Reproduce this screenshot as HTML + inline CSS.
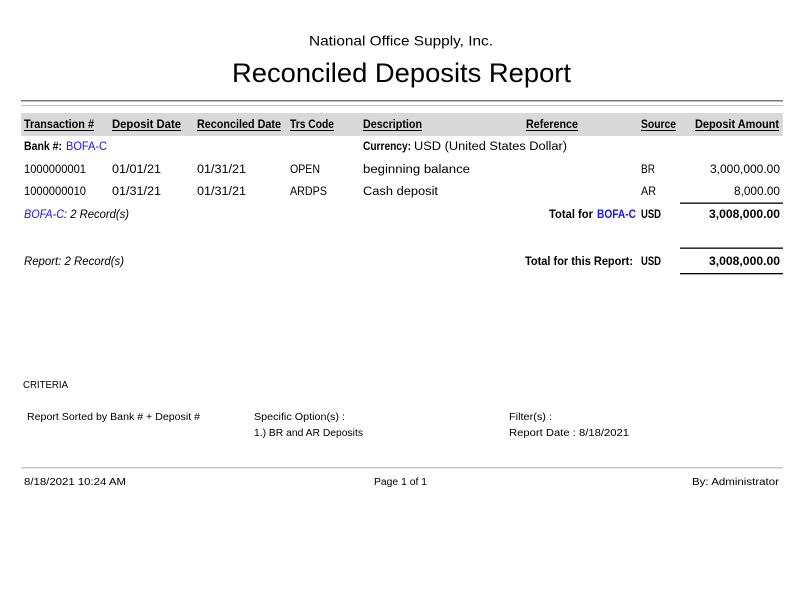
<!DOCTYPE html>
<html>
<head>
<meta charset="utf-8">
<style>
  html, body { margin:0; padding:0; background:#fff; }
  svg { display:block; }
  text { font-family: "Liberation Sans", sans-serif; fill:#000; }
  .h { font-size:12px; font-weight:bold; }
  .r { font-size:11.5px; }
  .b { font-weight:bold; }
  .i { font-style:italic; }
  .blue { fill:#1414ff; }
  .s { font-size:10px; }
</style>
</head>
<body>
<svg width="808" height="612" viewBox="0 0 808 612" xmlns="http://www.w3.org/2000/svg">
  <rect x="0" y="0" width="808" height="612" fill="#fff"/>

  <!-- titles -->
  <text x="309" y="45.5" font-size="14" textLength="184" lengthAdjust="spacingAndGlyphs">National Office Supply, Inc.</text>
  <text x="232" y="82" font-size="26.5" textLength="339" lengthAdjust="spacingAndGlyphs">Reconciled Deposits Report</text>

  <!-- top rules -->
  <rect x="21" y="100" width="762" height="1.5" fill="#7a7a7a"/>
  <rect x="21" y="105" width="762" height="1" fill="#c4c4c4"/>

  <!-- header band -->
  <rect x="21" y="113" width="762" height="23" fill="#d9d9d9"/>
  <g class="h">
    <text x="24" y="128" textLength="70" lengthAdjust="spacingAndGlyphs">Transaction #</text>
    <text x="112" y="128" textLength="69" lengthAdjust="spacingAndGlyphs">Deposit Date</text>
    <text x="197" y="128" textLength="84" lengthAdjust="spacingAndGlyphs">Reconciled Date</text>
    <text x="290" y="128" textLength="44" lengthAdjust="spacingAndGlyphs">Trs Code</text>
    <text x="363" y="128" textLength="59" lengthAdjust="spacingAndGlyphs">Description</text>
    <text x="526" y="128" textLength="52" lengthAdjust="spacingAndGlyphs">Reference</text>
    <text x="641" y="128" textLength="35" lengthAdjust="spacingAndGlyphs">Source</text>
    <text x="695" y="128" textLength="84" lengthAdjust="spacingAndGlyphs">Deposit Amount</text>
  </g>
  <g fill="#000">
    <rect x="24" y="130" width="70" height="1"/>
    <rect x="112" y="130" width="69" height="1"/>
    <rect x="197" y="130" width="84" height="1"/>
    <rect x="290" y="130" width="44" height="1"/>
    <rect x="363" y="130" width="59" height="1"/>
    <rect x="526" y="130" width="52" height="1"/>
    <rect x="641" y="130" width="35" height="1"/>
    <rect x="695" y="130" width="84" height="1"/>
  </g>

  <!-- bank row -->
  <g class="r">
    <text x="24" y="150" class="b" textLength="38" lengthAdjust="spacingAndGlyphs">Bank #:</text>
    <text x="66" y="150" class="blue" textLength="41" lengthAdjust="spacingAndGlyphs">BOFA-C</text>
    <text x="363" y="150" class="b" textLength="48" lengthAdjust="spacingAndGlyphs">Currency:</text>
    <text x="414" y="150" textLength="153" lengthAdjust="spacingAndGlyphs">USD (United States Dollar)</text>

    <!-- row 1 -->
    <text x="24" y="173" textLength="62" lengthAdjust="spacingAndGlyphs">1000000001</text>
    <text x="112" y="173" textLength="49" lengthAdjust="spacingAndGlyphs">01/01/21</text>
    <text x="197" y="173" textLength="49" lengthAdjust="spacingAndGlyphs">01/31/21</text>
    <text x="290" y="173" textLength="30" lengthAdjust="spacingAndGlyphs">OPEN</text>
    <text x="363" y="173" textLength="107" lengthAdjust="spacingAndGlyphs">beginning balance</text>
    <text x="641" y="173" textLength="14" lengthAdjust="spacingAndGlyphs">BR</text>
    <text x="710" y="173" textLength="70" lengthAdjust="spacingAndGlyphs">3,000,000.00</text>

    <!-- row 2 -->
    <text x="24" y="195" textLength="62" lengthAdjust="spacingAndGlyphs">1000000010</text>
    <text x="112" y="195" textLength="49" lengthAdjust="spacingAndGlyphs">01/31/21</text>
    <text x="197" y="195" textLength="49" lengthAdjust="spacingAndGlyphs">01/31/21</text>
    <text x="290" y="195" textLength="37" lengthAdjust="spacingAndGlyphs">ARDPS</text>
    <text x="363" y="195" textLength="75" lengthAdjust="spacingAndGlyphs">Cash deposit</text>
    <text x="641" y="195" textLength="15" lengthAdjust="spacingAndGlyphs">AR</text>
    <text x="734" y="195" textLength="46" lengthAdjust="spacingAndGlyphs">8,000.00</text>

    <!-- group total -->
    <text x="24" y="218" class="i blue" textLength="40" lengthAdjust="spacingAndGlyphs">BOFA-C</text>
    <text x="64" y="218" class="i" textLength="65" lengthAdjust="spacingAndGlyphs">: 2 Record(s)</text>
    <text x="549" y="218" class="b" textLength="44" lengthAdjust="spacingAndGlyphs">Total for</text>
    <text x="597" y="218" class="b blue" textLength="39" lengthAdjust="spacingAndGlyphs">BOFA-C</text>
    <text x="641" y="218" class="b" textLength="20" lengthAdjust="spacingAndGlyphs">USD</text>
    <text x="709" y="218" class="b" textLength="71" lengthAdjust="spacingAndGlyphs">3,008,000.00</text>

    <!-- report total -->
    <text x="24" y="265" class="i" textLength="100" lengthAdjust="spacingAndGlyphs">Report: 2 Record(s)</text>
    <text x="525" y="265" class="b" textLength="108" lengthAdjust="spacingAndGlyphs">Total for this Report:</text>
    <text x="641" y="265" class="b" textLength="20" lengthAdjust="spacingAndGlyphs">USD</text>
    <text x="709" y="265" class="b" textLength="71" lengthAdjust="spacingAndGlyphs">3,008,000.00</text>
  </g>

  <!-- total lines -->
  <rect x="680" y="202.5" width="103" height="1.3" fill="#000"/>
  <rect x="680" y="247.5" width="103" height="1.3" fill="#000"/>
  <rect x="680" y="273" width="103" height="1.3" fill="#000"/>

  <!-- criteria -->
  <g class="s">
    <text x="23" y="388" textLength="45" lengthAdjust="spacingAndGlyphs">CRITERIA</text>
    <text x="27" y="420" textLength="173" lengthAdjust="spacingAndGlyphs">Report Sorted by Bank # + Deposit #</text>
    <text x="254" y="420" textLength="91" lengthAdjust="spacingAndGlyphs">Specific Option(s) :</text>
    <text x="254" y="436" textLength="109" lengthAdjust="spacingAndGlyphs">1.) BR and AR Deposits</text>
    <text x="509" y="420" textLength="43" lengthAdjust="spacingAndGlyphs">Filter(s) :</text>
    <text x="509" y="436" textLength="120" lengthAdjust="spacingAndGlyphs">Report Date : 8/18/2021</text>
  </g>

  <!-- footer -->
  <rect x="21" y="467" width="762" height="1.5" fill="#c8c8c8"/>
  <g class="s">
    <text x="24" y="485" textLength="102" lengthAdjust="spacingAndGlyphs">8/18/2021 10:24 AM</text>
    <text x="374" y="485" textLength="53" lengthAdjust="spacingAndGlyphs">Page 1 of 1</text>
    <text x="692" y="485" textLength="87" lengthAdjust="spacingAndGlyphs">By: Administrator</text>
  </g>
</svg>
</body>
</html>
